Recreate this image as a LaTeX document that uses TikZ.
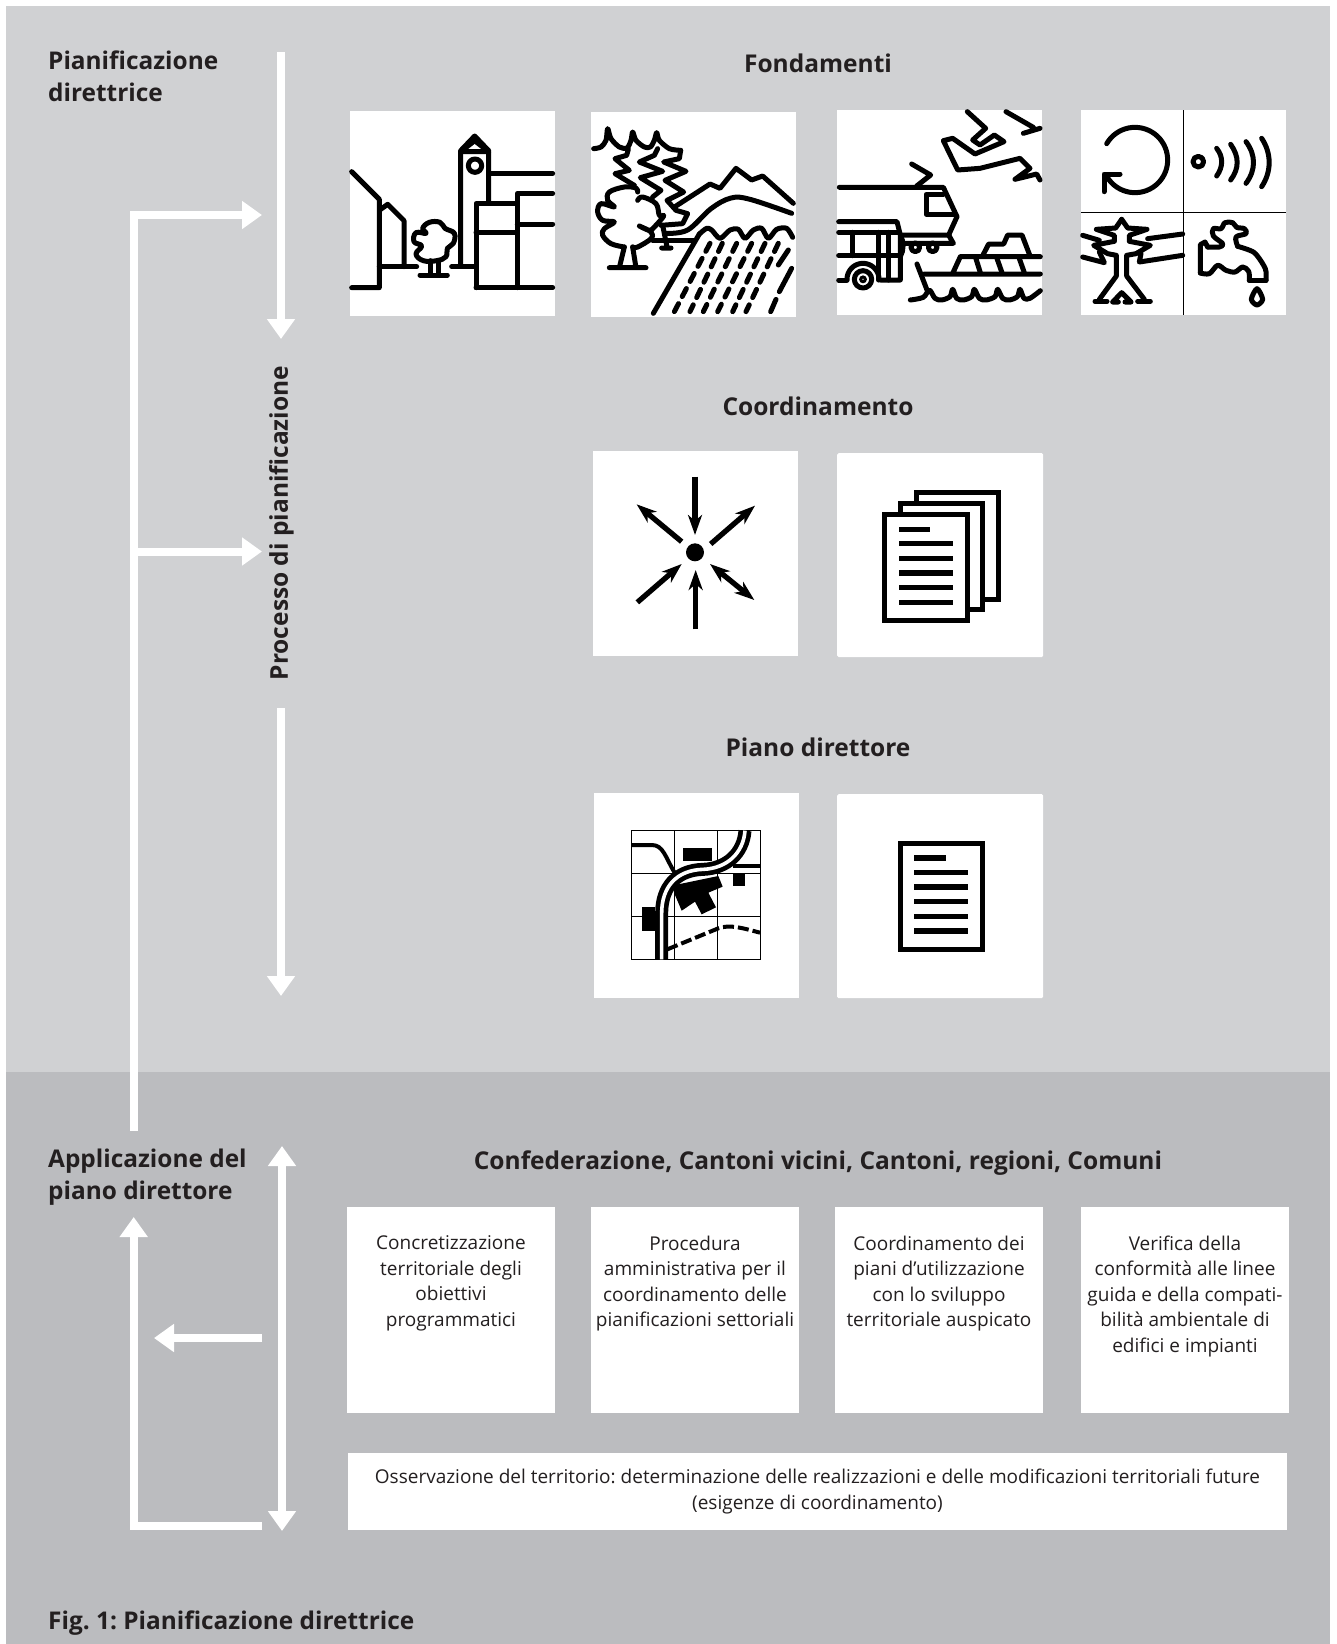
\documentclass[tikz,border=0pt]{standalone}
\usepackage{fontspec}
\setmainfont{Open Sans}
\usetikzlibrary{arrows.meta}
\definecolor{bgupper}{HTML}{D0D1D3}
\definecolor{bglower}{HTML}{BBBCBF}
\definecolor{inktext}{HTML}{231F20}
\begin{document}
\frenchspacing
\begin{tikzpicture}[
    x=1pt, y=-1pt,
    >={Triangle[width=27pt,length=20pt]},
    heading/.style={font=\fontsize{24.4}{32}\selectfont\bfseries, text=inktext, align=left, inner sep=0pt},
    title/.style={font=\fontsize{24.5}{32}\selectfont\bfseries, text=inktext, inner sep=0pt},
    iconbox/.style={fill=white, inner sep=0pt, minimum width=205pt, minimum height=205pt, anchor=north west},
    softbox/.style={iconbox, rounded corners=1.5pt, minimum width=206pt, minimum height=204pt},
    textbox/.style={fill=white, inner sep=0pt, anchor=north west, minimum width=208pt, minimum height=206pt},
    bodytext/.style={align=center, text=inktext, inner sep=0pt, font=\fontsize{19}{25.5}\selectfont},
    flow/.style={->, draw=white, line width=8pt},
    ink/.style={draw=black, line width=5pt, line cap=round, line join=round},
    hair/.style={draw=black, line width=1.2pt},
    sheet/.style={draw=black, fill=white, line width=5pt},
    textline/.style={draw=black, line width=5.5pt},
    pointer/.style={draw=black, line width=5.3pt, -{Stealth[width=14pt,length=20pt,inset=6pt]}}]
\useasboundingbox (0,0) rectangle (1337,1644);

% the two bands
\fill[white] (0,0) rectangle (1337,1644);
\fill[bgupper] (6,6) rectangle (1330,1072);
\fill[bglower] (6,1072) rectangle (1330,1644);

% row titles
\node[heading, anchor=north west] (planning) at (48,51) {Pianificazione\\direttrice};
\node[heading, anchor=north west] (application) at (48,1149) {Applicazione del\\piano direttore};
\node[heading, anchor=west] (caption) at (48,1623) {Fig. 1: Pianificazione direttrice};
\node[title] (basics) at (818,63) {Fondamenti};
\node[title] (coordination) at (818,406) {Coordinamento};
\node[title] (masterplan) at (818,747) {Piano direttore};
\node[title] (authorities) at (818,1163) {Confederazione, Cantoni vicini, Cantoni, regioni, Comuni};
\node[title, rotate=90] (process) at (281.5,523) {Processo di pianificazione};

% white icon boxes
\node[iconbox] (settlement) at (350,111) {};
\node[iconbox] (landscape) at (591,112) {};
\node[iconbox] (transport) at (837,110) {};
\node[iconbox] (environment) at (1081,110) {};
\node[iconbox] (convergence) at (593,451) {};
\node[softbox] (documents) at (837,453) {};
\node[iconbox] (mapicon) at (594,793) {};
\node[softbox] (report) at (837,794) {};

% text boxes
\node[textbox] (concrete) at (347,1207) {};
\node[textbox] (procedure) at (591,1207) {};
\node[textbox] (landuse) at (835,1207) {};
\node[textbox] (check) at (1081,1207) {};
\node[bodytext, anchor=north] (concretetext) at (451,1235.5) {Concretizzazione\\territoriale degli\\obiettivi\\programmatici};
\node[bodytext, anchor=north] (proceduretext) at (695,1235.5) {Procedura\\amministrativa per il\\coordinamento delle\\pianificazioni settoriali};
\node[bodytext, anchor=north] (landusetext) at (939,1235.5) {Coordinamento dei\\piani d’utilizzazione\\con lo sviluppo\\territoriale auspicato};
\node[bodytext, anchor=north] (checktext) at (1185,1235.5) {Verifica della\\conformità alle linee\\guida e della compati-\\bilità ambientale di\\edifici e impianti};
\node[textbox, minimum width=939pt, minimum height=77pt] (observation) at (348,1453) {};
\node[bodytext] (observationtext) at (817.5,1491.5) {Osservazione del territorio: determinazione delle realizzazioni e delle modificazioni territoriali future\\(esigenze di coordinamento)};

% free ends of the flows
\coordinate (topstart) at (281,52);
\coordinate (topend) at (281,339);
\coordinate (midstart) at (281,708);
\coordinate (midend) at (281,996);
\coordinate (backstart) at (133.7,1131);
\coordinate (backcorner) at (133.7,215);
\coordinate (backtip) at (262,215);
\coordinate (branch) at (133.7,551.5);
\coordinate (branchtip) at (262,551.5);
\coordinate (dbltop) at (282,1146);
\coordinate (dblbottom) at (282,1531);
\coordinate (lefttail) at (262,1338);
\coordinate (lefttip) at (154,1338);
\coordinate (ltail) at (262,1525.5);
\coordinate (lcorner) at (133.7,1525.5);
\coordinate (ltip) at (133.7,1217);

% flows
\draw[flow] (topstart) -- (topend);
\draw[flow] (midstart) -- (midend);
\draw[flow] (backstart) -- (backcorner) -- (backtip);
\draw[flow] (branch) -- (branchtip);
\draw[flow, <->] (dbltop) -- (dblbottom);
\draw[flow] (lefttail) -- (lefttip);
\draw[flow] (ltail) -- (lcorner) -- (ltip);

% settlement and landscape
\begin{scope}[shift={(340,100)},scale=1/3]
\draw[ink] (35,215) -- (118,298) -- (118,563) -- (35,563);
\draw[ink] (122,328) -- (143,313) -- (192,362) -- (192,500);
\draw[ink] (118,500) -- (230,500) (335,500) -- (408,500);
\draw[ink] plot[smooth cycle, tension=.7] coordinates {(268,367) (300,367) (315,385) (343,400) (340,430) (322,445) (318,470) (290,482) (250,482) (228,462) (245,438) (222,425) (228,398) (258,400) (248,385)};
\draw[ink] (272,482) -- (272,522) (295,482) -- (295,522) (240,525) -- (322,525);
\draw[ink] (362,495) -- (362,152) -- (404,108) -- (446,152) -- (446,305);
\draw[ink] (362,155) -- (404,122) -- (446,155) -- cycle;
\draw[ink] (405,197) circle (20);
\draw[ink] (408,563) -- (408,310) -- (532,310);
\draw[ink] (408,398) -- (532,398);
\draw[ink] (532,563) -- (532,280) -- (638,280);
\draw[ink] (532,372) -- (638,372);
\draw[ink] (408,563) -- (638,563);
\draw[ink] (446,220) -- (638,220);
% firs
\draw[ink] plot[smooth, tension=.5] coordinates {(761,146) (783,141) (798,121) (803,86) (813,116) (838,141) (861,144) (873,121) (878,96) (888,121) (913,141) (931,141) (943,121) (950,98) (958,121) (988,146) (1022,151)};
\draw[ink] (865,148) -- (860,166) -- (825,176) -- (868,211) -- (825,221) -- (883,256);
\draw[ink] (953,146) -- (943,166) -- (898,186) -- (968,214) -- (901,233) -- (963,271) -- (938,291);
\draw[ink] (1022,151) -- (1018,176) -- (971,186) -- (1038,214) -- (975,241) -- (1031,276) -- (981,301) -- (1008,331) -- (1043,341) -- (1028,371) -- (963,376);
\draw[ink] (968,376) -- (981,441) (965,444) -- (993,444);
% broad tree
\draw[ink] plot[smooth, tension=.6] coordinates {(893,301) (908,291) (948,311) (958,346) (971,348) (943,381) (928,391) (898,378) (933,396) (933,416) (893,441) (878,441)};
\draw[ink] plot[smooth, tension=.6] coordinates {(853,441) (813,431) (788,406) (793,386) (823,366) (788,361) (773,336) (783,311) (823,321) (803,301) (808,276) (853,261) (888,264) (893,276)};
\draw[ink] (878,441) -- (888,503) (853,441) -- (838,503) (808,503) -- (918,503);
\draw[ink] (938,421) -- (1063,421);
% mountains and field
\draw[ink] (1005,320) -- (1110,252) -- (1140,265) -- (1188,205) -- (1235,240) -- (1268,228) -- (1360,310);
\draw[ink] plot[smooth, tension=.6] coordinates {(978,400) (1043,390) (1113,326) (1173,294) (1230,298) (1355,340)};
\draw[ink] plot[smooth, tension=.5] coordinates {(1078,402) (1100,385) (1115,390) (1140,415) (1170,390) (1195,388) (1215,415) (1240,390) (1265,385) (1285,415) (1310,388) (1340,385) (1358,412)};
\draw[ink] (1078,402) -- (940,640);
\foreach \tx/\bx in {1110/1003, 1147/1050, 1190/1090, 1235/1133, 1275/1178, 1315/1218}
    \draw[ink, dash pattern=on 9pt off 8pt] (\tx,430) -- (\bx,635);
\draw[ink] (1345,450) -- (1315,495) (1355,505) -- (1318,575) (1308,598) -- (1292,635);
\end{scope}

% transport and environment
\begin{scope}[shift={(820,100)},scale=1/3]
\draw[ink] (442,35) -- (497,85) -- (458,120) -- (480,135) -- (523,105) -- (552,125) -- (465,162) -- (398,115) -- (370,122) -- (413,210) -- (480,205) -- (600,175) -- (630,205) -- (585,238) -- (650,222) -- (660,240);
\draw[ink] (558,35) -- (640,82) (660,85) -- (610,100);
\draw[ink] (275,192) -- (332,225) -- (290,258);
\draw[ink] (58,262) -- (370,262) -- (411,350) -- (386,405) -- (241,405);
\draw[ink] (370,283) -- (318,283) -- (318,342) -- (405,342);
\draw[ink] (386,405) -- (400,430) -- (256,430);
\draw[ink] (286,442) circle (13) (338,442) circle (13);
\draw[ink] (56,365) -- (231,365) -- (241,405) -- (241,540) -- (181,540);
\draw[ink] (56,397) -- (236,397) (56,467) -- (241,467);
\draw[ink] (96,397) -- (96,467) (176,397) -- (176,540) (206,397) -- (206,540);
\draw[ink] (241,405) .. controls (252,425) and (252,450) .. (241,470);
\draw[ink] (56,540) -- (81,540);
\draw[ink] plot[domain=-180:0, samples=25] ({129+48*cos(\x)},{538+48*sin(\x)});
\draw[ink] (129,538) circle (26);
\draw[draw=black, line width=3pt] (129,538) circle (7);
\draw[ink] (291,492) -- (321,570);
\draw[ink] (313,522) -- (661,522) (421,470) -- (661,470) (399,518) -- (421,470);
\draw[ink] (466,470) -- (481,518) (529,470) -- (546,518) (596,470) -- (613,518);
\draw[ink] (489,465) -- (506,432) -- (551,432) -- (563,405) -- (606,405) -- (629,465);
\draw[ink] plot[smooth, tension=.5] coordinates {(271,600) (310,592) (328,570) (345,595) (365,600) (390,590) (398,568) (410,595) (430,600) (455,590) (463,568) (478,595) (498,600) (525,590) (533,568) (548,595) (568,600) (592,590) (600,568) (612,595) (630,595) (661,572)};
\draw[hair] (1090,30) -- (1090,645) (783,337) -- (1398,337);
\draw[ink] plot[domain=-150:148, samples=50] ({945+98*cos(\x)},{180+98*sin(\x)});
\draw[ink] (852,275) -- (852,222) -- (900,222);
\draw[ink] (1135,185) circle (16);
\draw[ink] (1190,145) .. controls (1210,170) and (1210,200) .. (1190,228);
\draw[ink] (1232,133) .. controls (1258,170) and (1258,205) .. (1232,240);
\draw[ink] (1278,125) .. controls (1308,165) and (1308,210) .. (1278,250);
\draw[ink] (1325,115) .. controls (1355,160) and (1355,215) .. (1325,260);
\end{scope}

% pylon and tap
\begin{scope}[shift={(1081,212)},scale=1/3]
\draw[ink] (122,22) -- (140,48) -- (198,52) -- (145,70) -- (145,88) -- (208,100) -- (165,125) -- (137,130) -- (137,192) -- (190,262);
\draw[ink] (122,22) -- (104,48) -- (46,52) -- (100,70) -- (100,88) -- (38,100) -- (80,125) -- (106,130) -- (106,192) -- (55,262);
\draw[ink] (42,268) -- (78,268) (170,268) -- (208,268);
\draw[ink] (95,270) -- (122,242) -- (150,270) (95,270) -- (112,270) (132,270) -- (150,270);
\draw[ink] (200,80) -- (305,66) (180,125) -- (175,150) -- (305,130);
\draw[ink] (5,70) -- (55,85) (5,135) -- (70,152) -- (55,120);
\draw[ink] plot[smooth, tension=.45] coordinates {(470,103) (520,122) (553,170) (555,205)};
\draw[ink] (555,205) -- (505,205);
\draw[ink] plot[smooth, tension=.55] coordinates {(505,205) (503,178) (485,165) (462,180) (435,175) (410,160) (385,185) (358,183)};
\draw[ink] (358,183) -- (358,98) -- (372,90) -- (380,105);
\draw[ink] plot[smooth, tension=.6] coordinates {(380,105) (415,105) (425,95) (397,72) (397,50) (420,50) (432,32) (455,32) (467,46) (490,50) (495,65) (465,75) (470,103)};
\draw[ink] plot[smooth cycle, tension=.5] coordinates {(528,230) (511,262) (528,279) (545,262)};
\end{scope}

% convergence and sheets
\begin{scope}[shift={(580,440)},scale=1/3]
\fill[black] (345,337) circle (27);
\draw[pointer] (345,110) -- (345,285);
\draw[pointer] (347,568) -- (347,390);
\draw[pointer] (305,305) -- (170,193);
\draw[pointer] (392,312) -- (525,197);
\draw[pointer] (172,487) -- (305,372);
\draw[pointer, {Stealth[width=14pt,length=20pt,inset=6pt]}-{Stealth[width=14pt,length=20pt,inset=6pt]}] (390,372) -- (523,480);
\draw[sheet] (1008,158) rectangle (1255,477);
\draw[sheet] (961,190) rectangle (1208,509);
\draw[sheet] (914,223) rectangle (1162,541);
\draw[textline] (957,268) -- (1050,268);
\foreach \rowy in {311,355,399,443,487}
    \draw[textline] (957,\rowy) -- (1118,\rowy);
\end{scope}

% map and report
\begin{scope}[shift={(580,780)},scale=1/3]
\draw[hair] (155,152) rectangle (541,538);
\draw[hair] (284,152) -- (284,538) (413,152) -- (413,538) (155,281) -- (541,281) (155,410) -- (541,410);
\fill[black] (310,203) rectangle (395,242);
\fill[black] (458,282) rectangle (495,318);
\fill[black] (185,380) rectangle (225,453);
\fill[black] (285,315) -- (415,288) -- (428,320) -- (385,338) -- (408,382) -- (365,403) -- (345,365) -- (305,392) -- (285,345) -- cycle;
\draw[draw=black, line width=4pt] (155,195) -- (215,195) .. controls (250,195) and (255,230) .. (285,280);
\draw[draw=black, line width=4pt] (460,258) -- (541,258);
\draw[draw=black, line width=4pt, dash pattern=on 11pt off 4pt] (262,508) -- (415,445) .. controls (450,432) and (490,445) .. (540,458);
\draw[draw=black, line width=13pt] (245,538) -- (245,400) .. controls (245,320) and (290,270) .. (370,268) .. controls (440,265) and (490,220) .. (495,152);
\draw[draw=white, line width=3.6pt] (245,538) -- (245,400) .. controls (245,320) and (290,270) .. (370,268) .. controls (440,265) and (490,220) .. (495,152);
\draw[sheet] (960,189) rectangle (1207,507);
\draw[textline] (1002,234) -- (1097,234);
\foreach \rowy in {277,321,365,409,453}
    \draw[textline] (1002,\rowy) -- (1165,\rowy);
\end{scope}
\end{tikzpicture}
\end{document}
